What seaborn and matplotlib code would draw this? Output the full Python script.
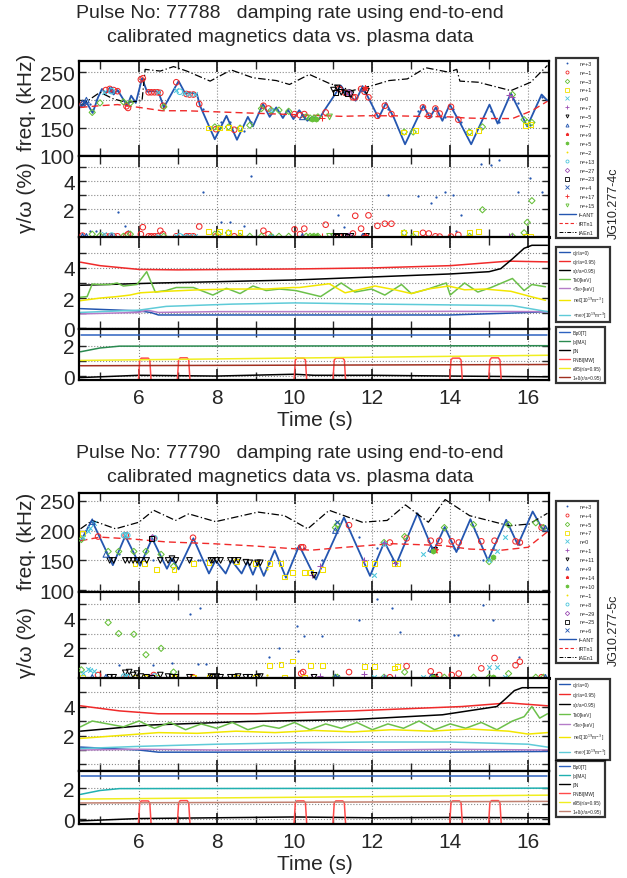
import numpy as np
import pandas as pd
import matplotlib
matplotlib.use("Agg")
import matplotlib.pyplot as plt
import seaborn as sns
from matplotlib.lines import Line2D
from matplotlib.ticker import FixedLocator, MultipleLocator

sns.set_theme(style="white")
plt.rcParams['font.family'] = ['Liberation Sans', 'DejaVu Sans']
plt.rcParams['mathtext.fontset'] = 'dejavusans'

# ------------------------------------------------------------------ DATA
pulses = ["77788", "77790"]
jg_labels = ["JG10.277-4c", "JG10.277-5c"]
title_line2 = "calibrated magnetics data vs. plasma data"

# ---- shot 77788 : frequency lines
a_ant_t = [4.51, 4.63, 4.81, 4.95, 5.05, 5.15, 5.25, 5.35, 5.45, 5.70, 5.80, 5.92, 6.08, 6.21, 6.35, 6.50, 6.64,
           7.02, 7.19, 7.35, 7.49, 7.57, 7.95, 8.25, 8.52, 8.80, 8.93, 9.19, 9.36, 9.53, 9.70, 9.83, 9.97,
           10.12, 10.33, 10.45, 10.63, 10.76, 11.19, 11.32, 11.57, 11.73, 11.87, 12.16, 12.35, 12.55, 12.84,
           13.31, 13.48, 13.63, 13.80, 13.99, 14.25, 14.54, 15.01, 15.22, 15.56, 15.98, 16.35, 16.50]
a_ant_f = [187, 199, 177, 205, 220, 212, 222, 210, 218, 190, 208, 195, 239, 215, 216, 215, 187,
           234, 212, 213, 211, 190, 130, 172, 129, 170, 153, 193, 170, 187, 168, 183, 166,
           182, 163, 170, 166, 181, 226, 213, 199, 221, 208, 168, 195, 169, 121,
           190, 169, 187, 163, 192, 160, 121, 192, 158, 212, 153, 210, 199]
a_rt_t = [4.5, 5.0, 5.45, 6.0, 6.6, 7.2, 8.0, 8.8, 9.6, 10.4, 11.2, 11.8, 12.5, 13.2, 14.0, 14.4, 15.0, 15.6, 16.1, 16.5]
a_rt_f = [187, 190, 192, 187, 181, 181, 179, 177, 175, 173, 171, 172, 172, 171, 170, 168, 167, 167, 181, 198]
a_ae_t = [4.5, 5.0, 5.35, 5.7, 6.08, 6.16, 6.55, 6.89, 7.23, 7.83, 8.37, 8.93, 9.53, 9.87, 10.38, 10.89, 11.48,
          12.0, 12.43, 12.9, 13.37, 13.96, 14.17, 14.25, 14.72, 15.56, 16.07, 16.5]
a_ae_f = [190, 214, 202, 196, 199, 255, 252, 260, 252, 234, 254, 240, 235, 228, 246, 230, 217,
          226, 235, 238, 258, 250, 255, 234, 232, 217, 232, 262]

# ---- shot 77788 : mode numbers (time, frequency, gamma/omega)
a_n = ["n=+3", "n=\u22121", "n=\u22123", "n=+1", "n=0", "n=+7", "n=\u22125", "n=\u22127", "n=+9", "n=+5",
       "n=\u22122", "n=+13", "n=\u221227", "n=\u221223", "n=+4", "n=+17", "n=+15"]
a_m_t = [
    [4.75, 4.9, 5.46, 5.65, 5.73, 7.65, 8.12, 8.33, 8.71, 8.88, 11.12, 11.27, 12.4, 13.17, 13.51, 13.63, 13.86, 14.07, 14.16, 14.28, 14.8, 15.06, 15.25, 15.75, 16.05, 16.35],
    [4.55, 5.15, 5.25, 5.35, 5.45, 5.68, 5.72, 6.05, 6.10, 6.25, 6.32, 6.40, 6.48, 6.55, 6.62, 6.96, 7.22, 7.30, 7.40, 7.55, 7.98, 8.45, 9.2, 9.33, 10.0, 10.14, 10.25, 10.8, 11.15, 11.3, 11.5, 11.56, 11.71, 11.8, 11.9, 12.13, 12.32, 12.49, 13.3, 13.45, 13.62, 13.73, 14.02, 14.21],
    [4.8, 5.0, 5.6, 5.78, 6.64, 7.95, 8.05, 8.3, 8.6, 8.85, 9.15, 9.4, 9.6, 9.85, 10.3, 10.4, 10.5, 10.6, 12.82, 13.05, 14.5, 14.83, 15.6, 15.9, 15.98, 16.1],
    [7.78, 8.07, 8.3, 8.6, 12.8, 13.1, 14.5, 14.72, 15.93, 16.06],
    [5.1, 6.5, 6.95, 7.15, 7.3, 7.45, 9.4],
    [15.5, 15.6],
    [11.0, 11.1, 11.2, 11.3, 11.45, 11.85],
    [4.55, 4.65, 5.3, 10.2, 11.75],
    [11.8],
    [10.45, 10.55],
    [8.0],
    [5.3, 7.05],
    [11.4],
    [11.05, 11.35],
    [4.6],
    [10.7],
    [10.9],
]
a_m_f = [
    [193, 200, 217, 195, 195, 185, 160, 160, 145, 160, 220, 214, 185, 180, 172, 186, 170, 185, 170, 160, 150, 180, 160, 195, 155, 205],
    [192, 218, 220, 218, 216, 189, 186, 237, 239, 214, 214, 214, 214, 213, 190, 232, 211, 210, 210, 193, 148, 147, 190, 185, 175, 173, 175, 178, 220, 213, 205, 205, 220, 215, 205, 172, 190, 175, 187, 172, 185, 176, 188, 165],
    [178, 195, 197, 195, 188, 152, 150, 152, 150, 155, 185, 182, 182, 180, 170, 168, 168, 170, 143, 143, 143, 152, 210, 165, 160, 160],
    [150, 150, 151, 149, 143, 145, 142, 145, 155, 157],
    [215, 214, 218, 212, 211, 211, 183],
    [210, 205],
    [218, 222, 214, 213, 210, 216],
    [195, 200, 218, 170, 221],
    [222],
    [167, 166],
    [150],
    [216, 215],
    [213],
    [214, 212],
    [197],
    [168],
    [170],
]
a_m_g = [
    [0.4, 0.45, 1.76, 0.8, 0.4, 3.24, 1.1, 1.1, 0.8, 4.38, 1.57, 0.7, 3.0, 2.95, 2.4, 2.85, 3.2, 3.0, 0.45, 1.6, 5.2, 5.15, 5.5, 3.2, 4.2, 3.2],
    [0.1, 0.05, 0.05, 0.05, 0.05, 0.1, 0.2, 0.2, 0.7, 0.05, 0.05, 0.05, 0.05, 0.45, 0.2, 0.05, 0.05, 0.05, 0.05, 0.75, 0.05, 0.05, 0.45, 0.2, 0.55, 0.2, 0.6, 0.88, 0.05, 0.05, 0.25, 1.52, 0.6, 0.05, 1.55, 0.8, 0.95, 0.95, 0.3, 0.25, 0.05, 0.03, 0.03, 0.15],
    [0.2, 0.1, 0.05, 0.2, 0.05, 0.2, 0.2, 0.3, 0.05, 0.05, 0.05, 0.05, 0.05, 0.05, 0.05, 0.05, 0.05, 0.05, 0.3, 0.05, 0.05, 1.95, 0.05, 0.3, 1.05, 2.6],
    [0.4, 0.4, 0.35, 0.35, 0.3, 0.25, 0.35, 0.4, 0.05, 0.05],
    [0.2, 0.05, 0.05, 0.05, 0.05, 0.05, 0.1],
    [0.1, 0.05],
    [0.05, 0.05, 0.05, 0.05, 0.05, 0.05],
    [0.05, 0.05, 0.05, 0.05, 0.05],
    [0.05],
    [0.05, 0.05],
    [0.3],
    [0.1, 0.05],
    [0.05],
    [0.05, 0.05],
    [0.1],
    [0.05],
    [0.05],
]

# ---- shot 77788 : plasma parameters
a_q0_t = [4.5, 6.0, 6.3, 6.5, 10.0, 14.0, 15.5, 16.5]
a_q0_v = [1.3, 1.15, 1.05, 0.88, 0.88, 0.88, 1.0, 1.1]
a_q95_t = [4.5, 5.0, 6.0, 7.0, 10.0, 12.0, 14.0, 15.5, 16.5]
a_q95_v = [4.38, 4.15, 3.9, 3.87, 3.93, 4.0, 4.15, 4.45, 4.4]
a_s95_t = [4.5, 6.5, 10.0, 12.0, 14.0, 15.0, 15.3, 15.6, 15.9, 16.1, 16.5]
a_s95_v = [2.85, 3.0, 3.2, 3.4, 3.6, 3.75, 3.95, 4.6, 5.3, 5.5, 5.5]
a_te0_t = [4.47, 4.67, 4.8, 5.0, 5.25, 5.44, 5.6, 5.95, 6.2, 6.42, 6.7, 6.96, 7.4, 7.9, 8.25, 8.6, 8.93, 9.27, 9.61,
           10.03, 10.67, 11.2, 11.55, 11.98, 12.32, 12.75, 13.0, 13.43, 13.9, 14.0, 14.37, 14.71, 15.05, 15.6, 15.9, 16.1, 16.45]
a_te0_v = [2.05, 2.1, 2.93, 2.9, 2.9, 3.0, 2.8, 2.9, 3.75, 2.4, 2.5, 2.7, 2.7, 2.2, 2.65, 2.3, 2.8, 2.5, 2.6,
           2.5, 2.1, 3.0, 2.4, 2.6, 2.2, 2.9, 2.3, 2.6, 3.0, 2.2, 3.0, 2.4, 2.7, 3.3, 2.5, 2.9, 2.75]
a_tem_t = [4.5, 6.0, 6.2, 6.5, 8.0, 10.0, 12.0, 14.0, 16.5]
a_tem_v = [0.95, 1.05, 1.2, 1.05, 1.1, 1.1, 1.1, 1.12, 1.1]
a_ne0_t = [4.47, 5.0, 5.44, 5.77, 6.03, 6.7, 7.55, 8.4, 9.27, 9.95, 10.12, 10.89, 11.3, 12.07, 12.58, 13.0, 13.43, 13.96, 14.37, 14.88, 15.56, 16.07, 16.45]
a_ne0_v = [1.82, 2.0, 2.1, 2.2, 2.35, 2.45, 2.55, 2.6, 2.6, 2.7, 2.7, 2.95, 2.35, 2.8, 2.55, 2.3, 2.6, 2.8, 2.55, 2.6, 2.45, 2.1, 1.85]
a_nem_t = [4.5, 6.0, 6.7, 8.4, 10.0, 12.2, 13.9, 15.6, 16.5]
a_nem_v = [1.05, 1.2, 1.45, 1.6, 1.68, 1.6, 1.55, 1.5, 1.1]

# ---- shot 77788 : machine parameters
a_bt_t = [4.5, 16.5]
a_bt_v = [2.68, 2.68]
a_ip_t = [4.5, 5.0, 5.5, 16.5]
a_ip_v = [1.6, 1.85, 1.97, 2.0]
a_bn_t = [4.5, 6.0, 8.0, 10.0, 10.5, 12.0, 14.0, 16.5]
a_bn_v = [-0.1, 0.05, 0.0, 0.12, 0.05, 0.05, 0.0, -0.05]
a_pnbi_t = [4.5, 5.98, 6.02, 6.06, 6.24, 6.28, 6.32, 6.98, 7.02, 7.06, 7.24, 7.28, 7.32,
            9.98, 10.02, 10.06, 10.24, 10.28, 10.32, 10.98, 11.02, 11.06, 11.24, 11.28, 11.32,
            13.98, 14.02, 14.06, 14.24, 14.28, 14.32, 14.98, 15.02, 15.06, 15.24, 15.28, 15.32, 16.5]
a_pnbi_v = [-0.6, -0.6, 1.05, 1.18, 1.18, 1.05, -0.6, -0.6, 1.05, 1.2, 1.2, 1.05, -0.6,
            -0.6, 1.05, 1.18, 1.18, 1.05, -0.6, -0.6, 1.05, 1.18, 1.18, 1.05, -0.6,
            -0.6, 1.05, 1.18, 1.18, 1.05, -0.6, -0.6, 1.05, 1.2, 1.2, 1.05, -0.6, -0.6]
a_k95_t = [4.5, 16.5]
a_k95_v = [1.03, 1.37]
a_d_t = [4.5, 16.5]
a_d_v = [0.68, 0.76]

# ---- shot 77790 : frequency lines
b_ant_t = [4.51, 4.79, 5.33, 5.65, 6.03, 6.34, 6.72, 6.85, 7.02, 7.40, 7.80, 7.97, 8.23, 8.38, 8.64, 8.79, 8.93, 9.06,
           9.21, 9.49, 9.78, 10.12, 10.55, 11.27, 11.94, 12.31, 12.61, 13.16, 13.57, 13.86, 14.16, 14.52, 14.97,
           15.44, 15.74, 16.12, 16.37, 16.48]
b_ant_f = [183, 217, 142, 191, 141, 187, 136, 153, 135, 187, 128, 150, 128, 150, 128, 148, 126, 147,
           124, 167, 121, 175, 118, 222, 124, 181, 143, 229, 165, 206, 164, 219, 150,
           218, 176, 232, 203, 204]
b_rt_t = [4.5, 5.0, 5.8, 6.7, 7.9, 9.0, 10.1, 10.4, 11.3, 12.5, 13.8, 14.5, 15.3, 16.0, 16.5]
b_rt_f = [183, 189, 186, 181, 178, 174, 169, 167, 172, 178, 175, 169, 167, 172, 198]
b_ae_t = [4.5, 4.8, 5.4, 6.0, 6.38, 6.94, 7.28, 7.97, 9.06, 9.74, 10.34, 10.89, 11.74, 12.38, 12.85, 13.44, 13.87,
          14.5, 15.52, 16.03, 16.5]
b_ae_f = [203, 217, 203, 214, 234, 217, 228, 215, 231, 225, 203, 234, 214, 217, 243, 214, 252, 225, 208, 211, 229]

# ---- shot 77790 : mode numbers
b_n = ["n=+3", "n=+4", "n=+5", "n=+7", "n=0", "n=+1", "n=+11", "n=+9", "n=+14", "n=+10",
       "n=\u22121", "n=+8", "n=\u221229", "n=\u221225", "n=+6"]
b_m_t = [
    [5.5, 6.35, 6.85, 7.32, 7.52, 7.57, 7.72, 9.35, 9.6, 10.06, 10.1, 10.24, 10.7, 11.65, 12.12, 12.5, 12.7, 14.09, 14.2, 14.84, 15.1, 15.78],
    [4.95, 5.66, 6.38, 7.39, 10.17, 10.22, 11.4, 12.45, 12.88, 13.5, 13.72, 14.04, 14.22, 14.8, 15.14, 15.68, 15.79, 16.35],
    [4.52, 5.21, 5.48, 5.87, 6.18, 6.57, 6.89, 11.05, 11.1, 12.3, 12.83, 13.85, 14.6, 15.0, 15.5, 16.2, 16.4],
    [4.55, 5.9, 6.15, 6.45, 6.9, 7.4, 7.8, 8.5, 9.0, 9.35, 9.65, 9.75, 9.94, 10.25, 10.42, 10.71, 11.79, 12.06, 12.56, 12.65],
    [4.57, 4.7, 4.75, 4.85, 5.65, 12.05, 12.3, 13.3, 15.0, 15.2, 15.4],
    [10.44, 10.65, 11.79, 12.3, 12.58],
    [5.25, 5.35, 5.65, 5.75, 5.85, 5.95, 6.05, 6.2, 6.55, 6.75, 6.85, 6.95, 7.3, 7.85, 7.9, 8.0, 8.1, 8.35, 8.45, 8.55, 8.75, 8.85, 9.05, 9.12, 10.5, 13.6],
    [4.8, 5.15, 11.05, 13.5, 13.55, 16.45],
    [13.6],
    [13.55, 15.1],
    [9.3],
    [5.62, 5.7, 6.4],
    [6.35],
    [6.33],
    [11.1],
]
b_m_f = [
    [160, 150, 150, 150, 150, 150, 150, 145, 145, 170, 170, 170, 150, 190, 170, 150, 150, 170, 170, 150, 170, 178],
    [190, 192, 187, 188, 172, 172, 209, 180, 187, 183, 183, 182, 180, 182, 183, 182, 180, 205],
    [185, 165, 165, 165, 165, 160, 140, 205, 210, 180, 190, 205, 210, 148, 210, 213, 205],
    [195, 145, 145, 135, 135, 145, 147, 148, 145, 145, 145, 122, 130, 130, 130, 135, 145, 145, 145, 145],
    [190, 200, 205, 212, 192, 125, 178, 160, 150, 165, 190],
    [125, 140, 150, 180, 145],
    [150, 150, 150, 150, 150, 150, 150, 150, 150, 150, 153, 150, 150, 150, 150, 150, 150, 150, 150, 150, 147, 146, 146, 146, 125, 167],
    [215, 160, 200, 170, 168, 204],
    [168],
    [165, 155],
    [135],
    [192, 192, 187],
    [188],
    [187],
    [215],
]
b_m_g = [
    [0.9, 0.9, 1.0, 4.35, 0.97, 4.7, 0.93, 1.4, 2.0, 3.5, 1.8, 2.8, 2.8, 3.9, 5.3, 4.7, 3.1, 2.9, 2.9, 4.9, 3.9, 1.4],
    [0.2, 0.05, 0.2, 0.05, 0.3, 0.4, 0.4, 0.05, 0.8, 0.45, 0.2, 0.2, 0.3, 0.65, 1.35, 0.86, 1.1, 0.05],
    [0.55, 3.74, 3.0, 2.95, 1.57, 2.0, 0.4, 0.05, 0.05, 0.05, 0.4, 0.05, 0.05, 0.05, 0.3, 0.05, 0.05],
    [0.05, 0.05, 0.05, 0.05, 0.05, 0.05, 0.05, 0.05, 0.05, 0.86, 0.92, 0.05, 1.15, 0.05, 0.86, 0.86, 0.8, 0.8, 0.67, 0.8],
    [0.35, 0.6, 0.55, 0.45, 0.05, 0.05, 0.05, 0.05, 0.75, 0.75, 0.05],
    [0.05, 0.15, 0.3, 0.05, 0.05],
    [0.05, 0.05, 0.35, 0.4, 0.2, 0.3, 0.1, 0.05, 0.2, 0.1, 0.05, 0.05, 0.05, 0.1, 0.05, 0.1, 0.05, 0.05, 0.05, 0.1, 0.05, 0.05, 0.05, 0.1, 0.05, 0.05],
    [0.05, 0.05, 0.05, 0.05, 0.05, 0.05],
    [0.05],
    [0.05, 0.05],
    [0.2],
    [0.1, 0.05, 0.1],
    [0.05],
    [0.05],
    [0.05],
]

# ---- shot 77790 : plasma parameters
b_q0_t = [4.5, 6.0, 6.5, 10.0, 14.0, 16.5]
b_q0_v = [1.2, 1.0, 0.85, 0.85, 0.85, 0.9]
b_q95_t = [4.5, 5.5, 6.5, 9.0, 11.5, 14.3, 15.5, 16.5]
b_q95_v = [4.05, 3.7, 3.5, 3.5, 3.7, 4.0, 4.25, 4.05]
b_s95_t = [4.5, 6.25, 8.8, 11.5, 13.8, 15.2, 15.45, 15.65, 15.85, 16.5]
b_s95_v = [2.3, 2.72, 2.97, 3.1, 3.43, 4.0, 4.6, 5.1, 5.3, 5.3]
b_te0_t = [4.5, 4.8, 5.2, 5.6, 6.0, 6.4, 6.8, 7.2, 7.6, 8.0, 8.4, 8.8, 9.2, 9.6, 10.0, 10.4, 10.8, 11.2, 11.6,
           12.0, 12.4, 12.8, 13.2, 13.6, 14.0, 14.4, 14.8, 15.2, 15.6, 15.9, 16.1, 16.3, 16.5]
b_te0_v = [2.6, 3.0, 2.8, 2.6, 3.0, 2.5, 2.9, 2.4, 2.8, 2.5, 2.9, 2.4, 2.7, 2.5, 2.9, 2.4, 2.8, 2.5, 2.9,
           2.4, 2.8, 2.5, 3.0, 2.4, 2.8, 2.5, 2.9, 2.4, 3.0, 3.3, 4.0, 3.2, 3.5]
b_tem_t = [4.5, 6.0, 8.0, 10.0, 12.0, 14.0, 16.5]
b_tem_v = [1.0, 1.05, 1.0, 1.05, 1.0, 1.05, 1.0]
b_ne0_t = [4.5, 5.5, 6.5, 7.5, 8.5, 9.5, 10.5, 11.5, 12.5, 13.5, 14.5, 15.5, 16.0, 16.5]
b_ne0_v = [1.8, 2.0, 2.2, 2.15, 2.3, 2.2, 2.35, 2.25, 2.4, 2.3, 2.45, 2.3, 2.1, 2.2]
b_nem_t = [4.5, 6.0, 8.0, 10.0, 12.0, 14.0, 16.0, 16.5]
b_nem_v = [1.1, 1.25, 1.4, 1.5, 1.55, 1.55, 1.4, 1.2]

# ---- shot 77790 : machine parameters
b_bt_t = [4.5, 16.5]
b_bt_v = [2.75, 2.75]
b_ip_t = [4.5, 5.0, 5.5, 16.5]
b_ip_v = [1.6, 1.85, 1.97, 2.0]
b_bn_t = [4.5, 6.0, 8.0, 10.0, 12.0, 14.0, 16.5]
b_bn_v = [-0.1, 0.05, 0.1, 0.15, 0.1, 0.12, 0.1]
b_pnbi_t = a_pnbi_t
b_pnbi_v = a_pnbi_v
b_k95_t = [4.5, 16.5]
b_k95_v = [1.3, 1.55]
b_d_t = [4.5, 16.5]
b_d_v = [1.05, 1.15]

# ------------------------------------------------------------------ STYLES
BLUE, RED, GREEN, YEL, CYAN, PURP = '#2456b0', '#f02a2a', '#66c038', '#f0e000', '#4cc6dc', '#9c50b4'
a_style = [('.', BLUE, True, 3), ('o', RED, False, 16), ('D', GREEN, False, 10), ('s', YEL, False, 12),
           ('x', CYAN, True, 11), ('+', PURP, True, 15), ('v', 'black', False, 16), ('^', BLUE, False, 16),
           ('*', RED, True, 20), ('h', GREEN, True, 13), ('.', YEL, True, 3), ('o', CYAN, False, 16),
           ('D', PURP, False, 10), ('s', 'black', False, 12), ('x', BLUE, True, 11), ('+', RED, True, 15),
           ('v', GREEN, False, 16)]
b_style = [('.', BLUE, True, 3), ('o', RED, False, 16), ('D', GREEN, False, 10), ('s', YEL, False, 12),
           ('x', CYAN, True, 11), ('+', PURP, True, 15), ('v', 'black', False, 16), ('^', BLUE, False, 16),
           ('*', RED, True, 20), ('h', GREEN, True, 13), ('.', YEL, True, 3), ('o', CYAN, False, 16),
           ('D', PURP, False, 10), ('s', 'black', False, 12), ('x', BLUE, True, 11)]

W, H = 627, 879
fig = plt.figure(figsize=(W / 100, H / 100), dpi=100)
FS = 15


def ax_at(x0, y0, x1, y1):
    return fig.add_axes([x0 / W, 1 - y1 / H, (x1 - x0) / W, (y1 - y0) / H])


def style_axes(ax, ylim, yt, ylab, xlabels=False):
    ax.set_xlim(4.46, 16.54)
    ax.set_ylim(*ylim)
    ax.xaxis.set_major_locator(FixedLocator([6, 8, 10, 12, 14, 16]))
    ax.xaxis.set_minor_locator(MultipleLocator(1))
    ax.yaxis.set_major_locator(FixedLocator(yt))
    ax.set_yticklabels(ylab)
    if not xlabels:
        ax.set_xticklabels([])
    ax.tick_params(axis='x', which='major', direction='in', length=8, width=1.3, top=True, bottom=True, labelsize=FS, pad=6)
    ax.tick_params(axis='x', which='minor', direction='in', length=6, width=1.0, top=True, bottom=True)
    ax.tick_params(axis='y', which='major', direction='in', length=5, width=1.0, left=True, right=True, labelsize=FS, pad=3)
    ax.grid(True, which='major', linestyle=':', color='#8a8a8a', linewidth=0.8)
    for s in ax.spines.values():
        s.set_linewidth(1.6)
        s.set_color('black')
    ax.set_xlabel('')
    ax.set_ylabel('')


def line(ax, t, v, c, lw=1.0, ls='-'):
    sns.lineplot(x=t, y=v, ax=ax, color=c, linewidth=lw, linestyle=ls, sort=False, estimator=None, legend=False)


def draw_block(y_off, pulse, jg, ant, rt, ae, names, mt, mf, mg, styles, plasma, machine, ip_col, d_col,
               p1_ylim, p3_ylim, p3_lab, p4_ylim, pan, leg_y, lab_y, leg_sp):
    x0, x1 = 79, 549
    y_a, y_b, y_c, y_d, y_e = pan
    fig.text(290 / W, 1 - (y_off + 13) / H, f"Pulse No: {pulse}   damping rate using end-to-end",
             ha='center', va='center', fontsize=14)
    fig.text(290 / W, 1 - (y_off + 37) / H, title_line2, ha='center', va='center', fontsize=14)

    ax1 = ax_at(x0, y_a, x1, y_b)
    ax2 = ax_at(x0, y_b, x1, y_c)
    ax3 = ax_at(x0, y_c, x1, y_d)
    ax4 = ax_at(x0, y_d, x1, y_e)

    # panel 1: frequencies
    line(ax1, ant[0], ant[1], BLUE, 1.3)
    line(ax1, rt[0], rt[1], RED, 1.0, (0, (5, 3)))
    line(ax1, ae[0], ae[1], 'black', 0.9, (0, (6, 2, 1, 2)))
    handles = []
    for name, t, f, g, (mk, c, filled, s) in zip(names, mt, mf, mg, styles):
        for ax, yv in ((ax1, f), (ax2, g)):
            if filled:
                sns.scatterplot(x=t, y=yv, ax=ax, marker=mk, color=c, s=s, linewidth=0.75,
                                edgecolor=c, legend=False, zorder=4)
            else:
                sns.scatterplot(x=t, y=yv, ax=ax, marker=mk, color=c, s=s, linewidth=0.75,
                                facecolor='none', edgecolor=c, legend=False, zorder=4)
        handles.append(Line2D([], [], linestyle='none', marker=mk, color=c, markersize=2.2 if mk != '.' else 1.5,
                              markerfacecolor=c if filled else 'none', markeredgewidth=0.6, label=name))
    handles += [Line2D([], [], color=BLUE, lw=1.0, label='f\u2212ANT'),
                Line2D([], [], color=RED, lw=0.8, ls=(0, (3, 2)), label='fRTn1'),
                Line2D([], [], color='black', lw=0.7, ls=(0, (4, 1.5, 1, 1.5)), label='fAEn1')]
    style_axes(ax1, p1_ylim, [100, 150, 200, 250], ['100', '150', '200', '250'])
    style_axes(ax2, (0, 5.8), [1, 2, 3, 4, 5], ['', '2', '', '4', ''])
    ax2.spines['bottom'].set_linewidth(2.2)

    # panel 3: plasma profiles
    cols3 = [BLUE, RED, 'black', '#6cc04a', '#b57cc8', '#f2e600', '#5fcbd8']
    labs3 = ['q(r/a=0)', 'q(r/a=0.95)', 's(r/a=0.95)', 'Te0[keV]', '<Te>[keV]',
             'ne0[10$^{19}$m$^{-3}$]', '<ne>[10$^{19}$m$^{-3}$]']
    for (t, v), c in zip(plasma, cols3):
        line(ax3, t, v, c, 1.1)
    style_axes(ax3, p3_ylim, [0, 1, 2, 3, 4, 5], p3_lab)

    # panel 4: machine parameters
    cols4 = ['#2d62c0', ip_col, 'black', '#ff4a4a', '#f0ee20', d_col]
    labs4 = ['B\u03c60[T]', 'Ip[MA]', '\u03b2N', 'PNBI[MW]', '\u03ba95(r/a=0.95)', '1+\u03b4(r/a=0.95)']
    for (t, v), c in zip(machine, cols4):
        line(ax4, t, v, c, 1.1)
    style_axes(ax4, p4_ylim, [0, 1, 2], ['0', '', '2'], xlabels=True)

    # labels
    fig.text(26 / W, 1 - lab_y[0] / H, 'freq. (kHz)', rotation=90, ha='center', va='center', fontsize=FS)
    fig.text(26 / W, 1 - lab_y[1] / H, '\u03b3/\u03c9 (%)', rotation=90, ha='center', va='center', fontsize=FS)
    fig.text(315 / W, 1 - (y_e + 40) / H, 'Time (s)', ha='center', va='center', fontsize=FS)
    fig.text(614 / W, 1 - leg_y[3] / H, jg, rotation=90, ha='center', va='center', fontsize=9)

    lkw = dict(loc='upper left', bbox_transform=fig.transFigure, frameon=True, fancybox=False,
               edgecolor='black', handletextpad=0.6, borderaxespad=0)
    L1 = fig.legend(handles=handles, bbox_to_anchor=(556 / W, 1 - leg_y[0] / H), labelspacing=leg_sp[0],
                    fontsize=3.9, handlelength=3.2, borderpad=0.5, **lkw)
    h3 = [Line2D([], [], color=c, lw=1.0, label=l) for c, l in zip(cols3, labs3)]
    L2 = fig.legend(handles=h3, bbox_to_anchor=(556 / W, 1 - leg_y[1] / H), labelspacing=leg_sp[1],
                    fontsize=3.4, handlelength=2.4, borderpad=0.6, **lkw)
    h4 = [Line2D([], [], color=c, lw=1.0, label=l) for c, l in zip(cols4, labs4)]
    L3 = fig.legend(handles=h4, bbox_to_anchor=(556 / W, 1 - leg_y[2] / H), labelspacing=leg_sp[2],
                    fontsize=3.4, handlelength=2.4, borderpad=0.6, **lkw)
    for L in (L1, L2, L3):
        L.get_frame().set_linewidth(1.6)


draw_block(0, pulses[0], jg_labels[0], (a_ant_t, a_ant_f), (a_rt_t, a_rt_f), (a_ae_t, a_ae_f),
           a_n, a_m_t, a_m_f, a_m_g, a_style,
           [(a_q0_t, a_q0_v), (a_q95_t, a_q95_v), (a_s95_t, a_s95_v), (a_te0_t, a_te0_v),
            (a_tem_t, a_tem_v), (a_ne0_t, a_ne0_v), (a_nem_t, a_nem_v)],
           [(a_bt_t, a_bt_v), (a_ip_t, a_ip_v), (a_bn_t, a_bn_v), (a_pnbi_t, a_pnbi_v),
            (a_k95_t, a_k95_v), (a_d_t, a_d_v)],
           '#2a8a50', '#a03020',
           (100, 270), (-0.05, 6.05), ['0', '', '2', '', '4', ''], (-0.26, 3.1),
           (62, 157, 238, 330, 381), (59, 248, 328, 203), (102, 198), (0.72, 0.85, 0.85))

draw_block(441, pulses[1], jg_labels[1], (b_ant_t, b_ant_f), (b_rt_t, b_rt_f), (b_ae_t, b_ae_f),
           b_n, b_m_t, b_m_f, b_m_g, b_style,
           [(b_q0_t, b_q0_v), (b_q95_t, b_q95_v), (b_s95_t, b_s95_v), (b_te0_t, b_te0_v),
            (b_tem_t, b_tem_v), (b_ne0_t, b_ne0_v), (b_nem_t, b_nem_v)],
           [(b_bt_t, b_bt_v), (b_ip_t, b_ip_v), (b_bn_t, b_bn_v), (b_pnbi_t, b_pnbi_v),
            (b_k95_t, b_k95_v), (b_d_t, b_d_v)],
           '#20b0b0', '#c08070',
           (97, 263), (-0.45, 5.97), ['', '', '2', '', '4', ''], (-0.3, 3.1),
           (494, 593, 679, 772, 825), (502, 680, 762, 630), (541, 643), (0.72, 1.05, 0.85))

fig.savefig('out.png', dpi=100)
